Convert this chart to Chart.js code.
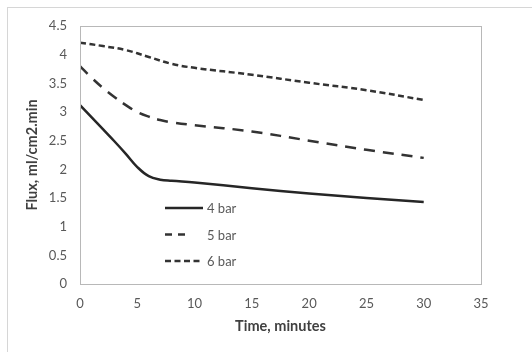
<!DOCTYPE html>
<html>
<head>
<meta charset="utf-8">
<script src="https://cdn.jsdelivr.net/npm/chart.js@4"></script>
<style>
  html, body { margin: 0; padding: 0; background: #fff; overflow: hidden; }
  #wrap { position: relative; width: 532px; height: 352px; overflow: hidden; }
  #frame { position: absolute; left: 7px; top: 7px; width: 700px; height: 500px; border: 1px solid #d6d6d6; }
  #chart { position: absolute; left: 0; top: 0; }
</style>
</head>
<body>
<div id="wrap">
  <div id="frame"></div>
  <canvas id="chart" width="532" height="352"></canvas>
</div>
<script>
// ----- DATA -----
const seriesNames = ["4 bar", "5 bar", "6 bar"];

const time4 = [0, 1, 2, 3, 4, 5, 6, 7, 8, 10, 15, 20, 25, 30];
const flux4 = [3.12, 2.91, 2.7, 2.49, 2.27, 2.04, 1.88, 1.82, 1.8, 1.77, 1.67, 1.58, 1.5, 1.43];

const time5 = [0, 1, 2, 3, 4, 5, 6, 7, 8, 10, 15, 20, 25, 30];
const flux5 = [3.8, 3.6, 3.42, 3.26, 3.12, 3.0, 2.92, 2.86, 2.82, 2.77, 2.66, 2.5, 2.34, 2.2];

const time6 = [0, 2, 4, 6, 8, 10, 15, 20, 25, 30];
const flux6 = [4.21, 4.15, 4.08, 3.96, 3.84, 3.77, 3.65, 3.51, 3.38, 3.21];

const xTicks = [0, 5, 10, 15, 20, 25, 30, 35];
const yTicks = [0, 0.5, 1, 1.5, 2, 2.5, 3, 3.5, 4, 4.5];

// ----- HELPERS -----
const toPoints = (xs, ys) => xs.map((x, i) => ({ x: x, y: ys[i] }));
const fontFamily = "Lato, 'Liberation Sans', sans-serif";
const lineColor = "#262626";
const textColor = "#595959";

// plot border + legend drawn inside the plot area
const boxAndLegend = {
  id: "boxAndLegend",
  afterDraw(chart) {
    const c = chart.ctx;
    const a = chart.chartArea;
    c.save();
    c.strokeStyle = "#b8b8b8";
    c.lineWidth = 1;
    c.strokeRect(a.left + 0.5, a.top + 0.5, a.right - a.left, a.bottom - a.top);

    // legend
    const x0 = 165, x1 = 203, yStart = 208, step = 26.5;
    c.font = "13px " + fontFamily;
    c.textBaseline = "middle";
    chart.data.datasets.forEach((ds, i) => {
      const y = yStart + i * step;
      c.strokeStyle = ds.borderColor;
      c.lineWidth = ds.borderWidth;
      c.setLineDash(ds.legendDash || []);
      c.beginPath();
      c.moveTo(x0, y);
      c.lineTo(x1, y);
      c.stroke();
      c.setLineDash([]);
      c.fillStyle = textColor;
      c.fillText(ds.label, x1 + 4, y + 1);
    });
    c.restore();
  }
};

const ctx = document.getElementById("chart").getContext("2d");

new Chart(ctx, {
  type: "line",
  data: {
    datasets: [
      {
        label: seriesNames[0],
        data: toPoints(time4, flux4),
        borderColor: lineColor,
        borderWidth: 2.5,
        legendDash: []
      },
      {
        label: seriesNames[1],
        data: toPoints(time5, flux5),
        borderColor: "#333",
        borderWidth: 2.5,
        borderDash: [11, 8],
        legendDash: [7, 6, 7, 40]
      },
      {
        label: seriesNames[2],
        data: toPoints(time6, flux6),
        borderColor: "#333",
        borderWidth: 2.5,
        borderDash: [6, 3.5],
        legendDash: [6, 3.5]
      }
    ]
  },
  options: {
    responsive: false,
    animation: false,
    devicePixelRatio: 1,
    elements: { point: { radius: 0 }, line: { tension: 0.4 } },
    layout: { padding: { top: 26, right: 51, left: 0, bottom: 0 } },
    plugins: { legend: { display: false }, tooltip: { enabled: false } },
    scales: {
      x: {
        type: "linear",
        min: 0,
        max: 35,
        afterBuildTicks: (s) => { s.ticks = xTicks.map(v => ({ value: v })); },
        afterFit: (s) => { s.height = 68; },
        grid: { display: false, drawTicks: false },
        border: { display: false },
        ticks: { color: textColor, padding: 12, callback: (v) => String(v), font: { family: fontFamily, size: 13 } },
        title: {
          display: true,
          text: "Time, minutes",
          color: "#404040",
          padding: { bottom: 17 },
          font: { family: fontFamily, size: 14.5, weight: "bold" }
        }
      },
      y: {
        min: 0,
        max: 4.5,
        afterBuildTicks: (s) => { s.ticks = yTicks.map(v => ({ value: v })); },
        afterFit: (s) => { s.width = 80; },
        grid: { display: false, drawTicks: false },
        border: { display: false },
        ticks: { color: textColor, padding: 13, callback: (v) => String(v), font: { family: fontFamily, size: 13 } },
        title: {
          display: true,
          text: "Flux, ml/cm2.min",
          color: "#404040",
          padding: { top: 24 },
          font: { family: fontFamily, size: 14.5, weight: "bold" }
        }
      }
    }
  },
  plugins: [boxAndLegend]
});
</script>
</body>
</html>
